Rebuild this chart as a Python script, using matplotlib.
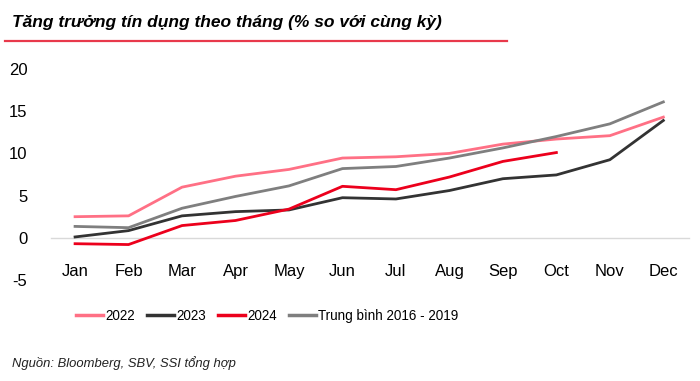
import matplotlib
matplotlib.use("Agg")
import matplotlib.pyplot as plt
from matplotlib import font_manager
from matplotlib.lines import Line2D

# ---- data -------------------------------------------------------------
months = ["Jan", "Feb", "Mar", "Apr", "May", "Jun",
          "Jul", "Aug", "Sep", "Oct", "Nov", "Dec"]
y2022 = [2.5, 2.6, 6.0, 7.3, 8.1, 9.45, 9.6, 10.0, 11.1, 11.7, 12.1, 14.3]
y2023 = [0.1, 0.85, 2.6, 3.1, 3.3, 4.75, 4.6, 5.6, 7.0, 7.45, 9.25, 13.9]
y2024 = [-0.7, -0.8, 1.45, 2.05, 3.4, 6.1, 5.7, 7.2, 9.05, 10.1]
yavg = [1.35, 1.2, 3.5, 4.9, 6.15, 8.2, 8.45, 9.45, 10.65, 12.0, 13.5, 16.1]
yticks = [-5, 0, 5, 10, 15, 20]

# condensed font if available, otherwise Arial-like with smaller sizes
names = {f.name for f in font_manager.fontManager.ttflist}
narrow = "Liberation Sans Narrow" in names
fam = "Liberation Sans Narrow" if narrow else "Liberation Sans"
k = 1.0 if narrow else 0.78
plt.rcParams["font.family"] = [fam, "DejaVu Sans"]
plt.rcParams["axes.unicode_minus"] = False

fig = plt.figure(figsize=(7.0, 3.81), dpi=100)
ax = fig.add_axes([51 / 700, 1 - 280 / 381, 638 / 700, 211 / 381])

x = list(range(len(months)))
ax.plot(x, y2022, color="#ff7085", lw=2, label="2022")
ax.plot(x, y2023, color="#333333", lw=2, label="2023")
ax.plot(x[:len(y2024)], y2024, color="#ec001c", lw=2, label="2024")
ax.plot(x, yavg, color="#7f7f7f", lw=2, label="Trung bình 2016 - 2019")

ax.set_xlim(-0.45, 11.48)
ax.set_ylim(-5, 20)
ax.set_yticks(yticks)
ax.set_xticks(x)
ax.set_xticklabels(months)
for s in ("top", "right", "left"):
    ax.spines[s].set_visible(False)
ax.spines["bottom"].set_position(("data", 0))
ax.spines["bottom"].set_color("#d9d9d9")
ax.spines["bottom"].set_linewidth(1)
ax.spines["bottom"].set_zorder(0)
ax.tick_params(axis="x", length=0, pad=19, labelsize=12)
ax.tick_params(axis="y", length=0, pad=17, labelsize=12)

handles = [Line2D([], [], color=l.get_color(), lw=2.5) for l in ax.get_lines()]
labels = [l.get_label() for l in ax.get_lines()]
fig.legend(handles, labels, loc="center", bbox_to_anchor=(267 / 700, 1 - 316 / 381),
           ncol=4, frameon=False, fontsize=12.5 * k, handlelength=2.0,
           handletextpad=0.15, columnspacing=0.9)

fig.text(12 / 700, 1 - 27 / 381, "Tăng trưởng tín dụng theo tháng (% so với cùng kỳ)",
         fontsize=16 * k, fontweight="bold", fontstyle="italic", va="baseline", ha="left")
fig.add_artist(Line2D([5 / 700, 507 / 700], [1 - 41 / 381, 1 - 41 / 381],
                      color="#e8394b", lw=1.6, transform=fig.transFigure))
fig.text(12 / 700, 1 - 363 / 381, "Nguồn: Bloomberg, SBV, SSI tổng hợp",
         fontsize=12 * k, fontstyle="italic", va="center", ha="left", color="#222222")

fig.savefig("out.png", dpi=100)
